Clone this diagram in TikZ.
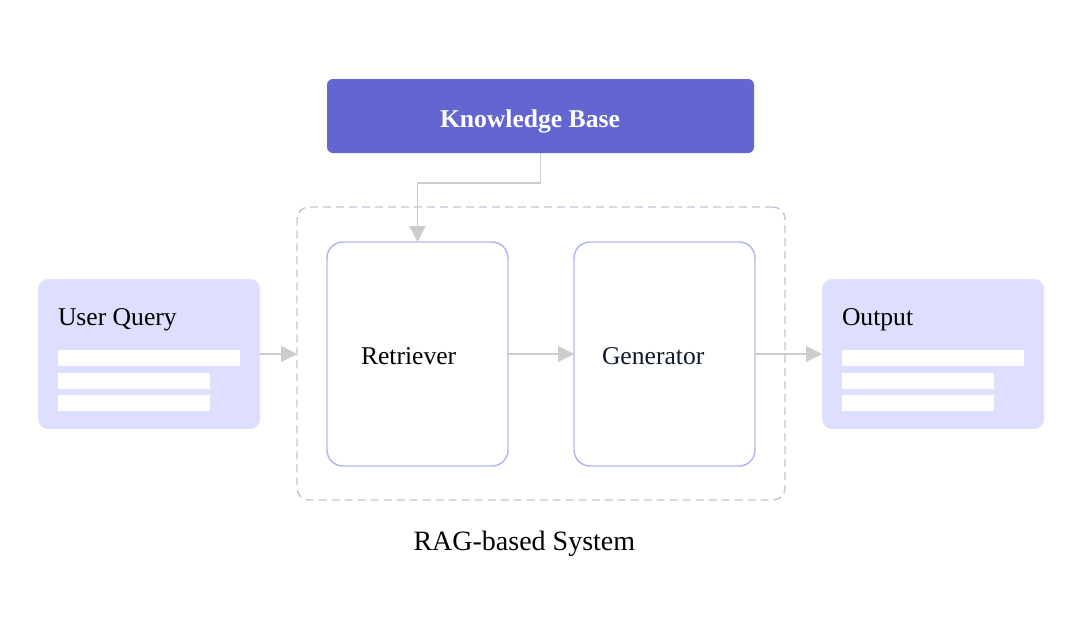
\documentclass[tikz,border=0pt]{standalone}
\usepackage{fontspec}
\setmainfont{Liberation Serif}
\usetikzlibrary{arrows.meta,positioning}
\definecolor{kbfill}{HTML}{6366D1}
\definecolor{lightfill}{HTML}{DEDEFE}
\definecolor{boxline}{HTML}{B2B6F2}
\definecolor{connline}{HTML}{CCCCCC}
\definecolor{dashline}{HTML}{C4C4D8}
\definecolor{gentext}{HTML}{0F1B2D}
\tikzset{
  every node/.style={inner sep=0pt, outer sep=0pt},
  kbbox/.style={fill=kbfill, rounded corners=4.5pt, minimum width=320.25pt, minimum height=55.5pt},
  iobox/.style={fill=lightfill, rounded corners=7.5pt, minimum width=166.5pt, minimum height=112.5pt},
  compbox/.style={draw=boxline, line width=1.1pt, fill=white, rounded corners=12pt, minimum width=135.75pt, minimum height=168pt},
  ragbox/.style={draw=dashline, line width=1.1pt, dash pattern=on 6pt off 3.75pt, rounded corners=9pt, minimum width=366pt, minimum height=219.75pt},
  bar/.style={fill=white, anchor=north west, minimum height=12pt},
  lbl/.style={font=\fontsize{19.2pt}{23pt}\selectfont, anchor=base west},
  conn/.style={draw=connline, line width=1pt, -{Triangle[length=12pt,width=12pt]}},
}
\begin{document}
\begin{tikzpicture}[x=0.75pt,y=-0.75pt]
\useasboundingbox (0,0) rectangle (1081,636);
% knowledge base
\node[kbbox] (kb) at (540.5,116) {};
\node[font=\bfseries\fontsize{19.2pt}{23pt}\selectfont, text=white, anchor=base west] (kbt) at (440,127) {Knowledge Base};
% RAG container
\node[ragbox] (rag) at (541,353.5) {};
\node[font=\fontsize{21pt}{25pt}\selectfont, anchor=base west] (ragt) at (413.5,550) {RAG-based System};
% components
\node[compbox] (ret) at (417.5,354) {};
\node[lbl] (rett) at (361,364) {Retriever};
\node[compbox] (gen) at (664.5,354) {};
\node[lbl, text=gentext] (gent) at (602,364) {Generator};
% user query
\node[iobox] (uq) at (149,354) {};
\node[lbl] (uqt) at (58,325) {User Query};
\node[bar, minimum width=136.5pt] (uqb1) at (58,350) {};
\node[bar, minimum width=114pt] (uqb2) at (58,373) {};
\node[bar, minimum width=114pt] (uqb3) at (58,395) {};
% output
\node[iobox] (out) at (933,354) {};
\node[lbl] (outt) at (842,325) {Output};
\node[bar, minimum width=136.5pt] (outb1) at (842,350) {};
\node[bar, minimum width=114pt] (outb2) at (842,373) {};
\node[bar, minimum width=114pt] (outb3) at (842,395) {};
% connectors
\draw[conn] (kb.south) -- ++(0,30) -| (ret.north);
\draw[conn] (uq.east) -- (uq.east -| rag.west);
\draw[conn] (ret.east) -- (gen.west);
\draw[conn] (gen.east) -- (out.west);
\end{tikzpicture}
\end{document}
